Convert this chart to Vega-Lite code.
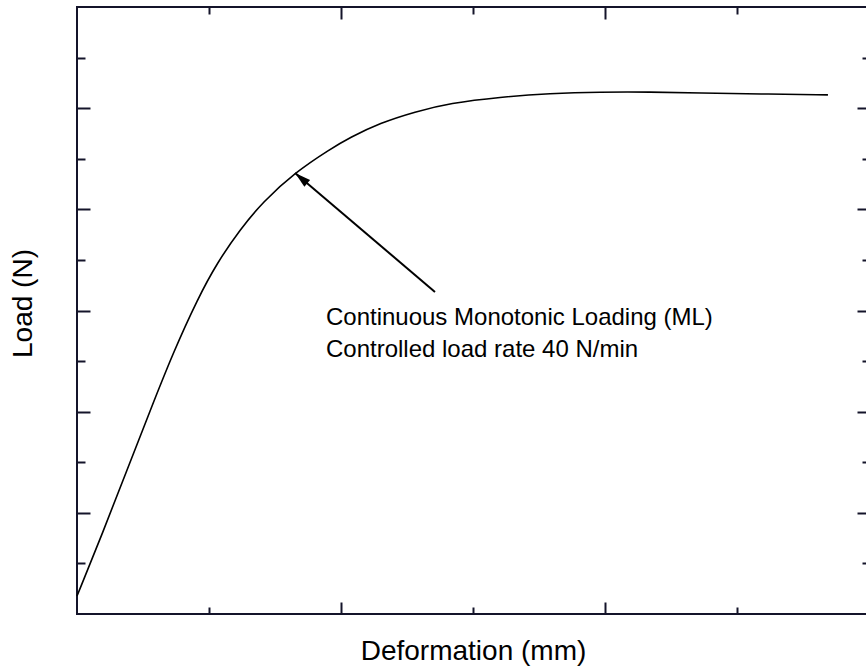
{
  "$schema": "https://vega.github.io/schema/vega-lite/v6.json",
  "autosize": "none",
  "padding": {"left": 77, "top": 7, "right": 0, "bottom": 53},
  "width": 792,
  "height": 607,
  "background": "white",
  "config": {
    "view": {"stroke": "#14142a", "strokeWidth": 2},
    "font": "Liberation Sans",
    "axis": {
      "domain": false,
      "grid": false,
      "labels": false,
      "tickColor": "#14142a",
      "tickWidth": 2,
      "titleFont": "Liberation Sans",
      "titleFontSize": 28,
      "titleFontWeight": "normal",
      "titleColor": "black"
    }
  },
  "datasets": {
    "curve": [
      {"d": 0.0, "load": 0.356},
      {"d": 0.197, "load": 1.621},
      {"d": 0.379, "load": 2.847},
      {"d": 0.553, "load": 4.013},
      {"d": 0.727, "load": 5.16},
      {"d": 0.917, "load": 6.248},
      {"d": 1.061, "load": 6.94},
      {"d": 1.235, "load": 7.6},
      {"d": 1.409, "load": 8.15},
      {"d": 1.652, "load": 8.73},
      {"d": 1.917, "load": 9.19},
      {"d": 2.068, "load": 9.42},
      {"d": 2.295, "load": 9.707},
      {"d": 2.561, "load": 9.93},
      {"d": 2.826, "load": 10.1},
      {"d": 3.205, "load": 10.221},
      {"d": 3.583, "load": 10.29},
      {"d": 3.962, "load": 10.32},
      {"d": 4.341, "load": 10.32},
      {"d": 4.72, "load": 10.3},
      {"d": 5.174, "load": 10.281},
      {"d": 5.689, "load": 10.262}
    ],
    "arrow": [
      {"x1": 2.712, "y1": 6.366, "x2": 1.652, "y2": 8.719}
    ],
    "head": [
      {"x": 1.698, "y": 8.616, "angle": 310.4}
    ],
    "note": [
      {"x": 1.886, "y": 5.714, "text": "Continuous Monotonic Loading (ML)"},
      {"x": 1.886, "y": 5.081, "text": "Controlled load rate 40 N/min"}
    ]
  },
  "layer": [
    {
      "data": {"name": "curve"},
      "mark": {"type": "line", "color": "black", "strokeWidth": 1.6, "interpolate": "basis"},
      "encoding": {
        "x": {
          "field": "d", "type": "quantitative",
          "scale": {"domain": [0, 6], "nice": false, "zero": false},
          "axis": {
            "orient": "bottom",
            "values": [1, 2, 3, 4, 5],
            "title": "Deformation (mm)",
            "titleY": 45,
            "titleBaseline": "alphabetic",
            "tickSize": {"condition": {"test": "datum.value % 2 === 0", "value": -12}, "value": -7}
          }
        },
        "y": {
          "field": "load", "type": "quantitative",
          "scale": {"domain": [0, 12], "nice": false, "zero": false},
          "axis": {
            "orient": "left",
            "values": [1, 2, 3, 4, 5, 6, 7, 8, 9, 10, 11],
            "title": "Load (N)",
            "titleX": -46,
            "titleY": 296,
            "titleAngle": -90,
            "titleBaseline": "alphabetic",
            "tickSize": {"condition": {"test": "datum.value % 2 === 0", "value": -13}, "value": -8}
          }
        }
      }
    },
    {
      "data": {"name": "arrow"},
      "mark": {"type": "rule", "color": "black", "strokeWidth": 2},
      "encoding": {
        "x": {
          "field": "x1", "type": "quantitative",
          "scale": {"domain": [0, 6], "nice": false, "zero": false},
          "axis": {
            "orient": "top",
            "values": [1, 2, 3, 4, 5],
            "title": null,
            "tickSize": {"condition": {"test": "datum.value % 2 === 0", "value": -12}, "value": -7}
          }
        },
        "y": {
          "field": "y1", "type": "quantitative",
          "scale": {"domain": [0, 12], "nice": false, "zero": false},
          "axis": {
            "orient": "right",
            "values": [1, 2, 3, 4, 5, 6, 7, 8, 9, 10, 11],
            "title": null,
            "tickSize": {"condition": {"test": "datum.value % 2 === 0", "value": -12}, "value": -7}
          }
        },
        "x2": {"field": "x2"},
        "y2": {"field": "y2"}
      }
    },
    {
      "data": {"name": "head"},
      "mark": {"type": "point", "shape": "M0,-1L0.55,1L-0.55,1Z", "filled": true, "color": "black", "opacity": 1, "size": 256},
      "encoding": {
        "x": {"field": "x", "type": "quantitative", "axis": null},
        "y": {"field": "y", "type": "quantitative", "axis": null},
        "angle": {"field": "angle", "type": "quantitative", "scale": null}
      }
    },
    {
      "data": {"name": "note"},
      "mark": {"type": "text", "align": "left", "baseline": "alphabetic", "fontSize": 24, "font": "Liberation Sans", "color": "black"},
      "encoding": {
        "x": {"field": "x", "type": "quantitative", "axis": null},
        "y": {"field": "y", "type": "quantitative", "axis": null},
        "text": {"field": "text"}
      }
    }
  ],
  "resolve": {"axis": {"x": "independent", "y": "independent"}}
}
